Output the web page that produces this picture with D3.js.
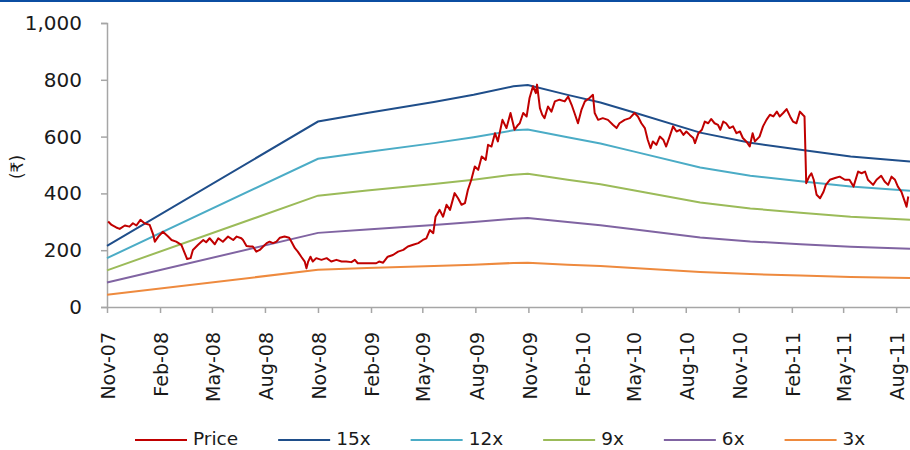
<!DOCTYPE html>
<html><head><meta charset="utf-8">
<script src="https://cdn.jsdelivr.net/npm/d3@7"></script>
<style>
body{margin:0;background:#fff}
svg{display:block}
text{font-family:"DejaVu Sans","Noto Sans",sans-serif;fill:#1a1a1a}
</style>
</head><body>
<svg id="chart" width="910" height="450"></svg>
<script>
// ---------- data ----------
const seriesNames = ["Price", "15x", "12x", "9x", "6x", "3x"];
const yTicks = [0, 200, 400, 600, 800, 1000];
const xTickDates = ["2007-11-01","2008-02-01","2008-05-01","2008-08-01","2008-11-01","2009-02-01","2009-05-01","2009-08-01","2009-11-01","2010-02-01","2010-05-01","2010-08-01","2010-11-01","2011-02-01","2011-05-01","2011-08-01"];

const bandDates = ["2007-11-01","2008-11-01","2009-01-25","2009-05-21","2009-07-29","2009-10-06","2009-10-31","2010-01-08","2010-03-06","2010-05-02","2010-08-26","2010-11-21","2011-02-16","2011-05-14","2011-08-25"];
const pe15 = [215, 653, 683, 722, 747, 777, 782, 747, 720, 686, 614, 578, 554, 530, 512];
const pe12 = [172, 522, 546, 577, 598, 622, 625, 598, 576, 548, 491, 462, 443, 424, 409];
const pe9  = [129, 392, 410, 433, 448, 466, 469, 448, 432, 411, 368, 347, 332, 318, 307];
const pe6  = [86, 261, 273, 289, 299, 311, 313, 299, 288, 274, 245, 231, 221, 212, 205];
const pe3  = [43, 131, 137, 144, 149, 155, 156, 149, 144, 137, 123, 116, 111, 106, 102];

const priceDates = [
"2007-11-03","2007-11-09","2007-11-17","2007-11-23","2007-12-02","2007-12-10","2007-12-16","2007-12-22","2007-12-29",
"2008-01-05","2008-01-14","2008-01-20","2008-01-23","2008-01-29","2008-02-06","2008-02-15","2008-02-21","2008-02-29",
"2008-03-09","2008-03-15","2008-03-19","2008-03-25","2008-03-29","2008-04-07","2008-04-16","2008-04-21","2008-04-27",
"2008-05-06","2008-05-12","2008-05-20","2008-05-29","2008-06-07","2008-06-13","2008-06-21","2008-06-24","2008-06-30",
"2008-07-06","2008-07-11","2008-07-17","2008-07-23","2008-07-29","2008-08-04","2008-08-09","2008-08-15","2008-08-21",
"2008-08-27","2008-09-04","2008-09-12","2008-09-16","2008-09-22","2008-09-27","2008-10-03","2008-10-09","2008-10-12",
"2008-10-15","2008-10-19","2008-10-23","2008-10-29","2008-11-07","2008-11-16","2008-11-24","2008-12-03","2008-12-12",
"2008-12-20","2008-12-29","2009-01-04","2009-01-09","2009-01-24","2009-02-10","2009-02-15","2009-02-22","2009-03-02",
"2009-03-11","2009-03-20","2009-03-29","2009-04-06","2009-04-15","2009-04-24","2009-05-02","2009-05-08","2009-05-14",
"2009-05-20","2009-05-24","2009-05-31","2009-06-06","2009-06-12","2009-06-18","2009-06-26","2009-07-02","2009-07-08",
"2009-07-14","2009-07-19","2009-07-25","2009-07-31","2009-08-06","2009-08-12","2009-08-19","2009-08-23","2009-08-29",
"2009-09-04","2009-09-09","2009-09-17","2009-09-24","2009-10-01","2009-10-08","2009-10-14","2009-10-17","2009-10-23",
"2009-10-29","2009-11-03","2009-11-09","2009-11-14","2009-11-16","2009-11-21","2009-11-25","2009-11-29","2009-12-05",
"2009-12-11","2009-12-17","2009-12-25","2010-01-03","2010-01-09","2010-01-15","2010-01-20","2010-01-26","2010-02-01",
"2010-02-07","2010-02-15","2010-02-21","2010-02-24","2010-03-02","2010-03-10","2010-03-19","2010-03-28","2010-04-03",
"2010-04-08","2010-04-17","2010-04-26","2010-05-04","2010-05-10","2010-05-16","2010-05-22","2010-05-27","2010-06-01",
"2010-06-05","2010-06-11","2010-06-17","2010-06-23","2010-06-28","2010-07-04","2010-07-10","2010-07-16","2010-07-22",
"2010-07-28","2010-08-02","2010-08-08","2010-08-14","2010-08-17","2010-08-23","2010-08-29","2010-09-03","2010-09-09",
"2010-09-14","2010-09-20","2010-09-26","2010-09-30","2010-10-05","2010-10-10","2010-10-16","2010-10-22","2010-10-28",
"2010-11-03","2010-11-08","2010-11-14","2010-11-20","2010-11-25","2010-11-29","2010-12-07","2010-12-13","2010-12-19",
"2010-12-25","2010-12-31","2011-01-06","2011-01-11","2011-01-17","2011-01-23","2011-01-29","2011-02-03","2011-02-09",
"2011-02-15","2011-02-20","2011-02-23","2011-02-26","2011-03-03","2011-03-07","2011-03-11","2011-03-16","2011-03-22",
"2011-03-28","2011-04-01","2011-04-08","2011-04-17","2011-04-25","2011-05-04","2011-05-12","2011-05-19","2011-05-27",
"2011-06-02","2011-06-08","2011-06-13","2011-06-22","2011-06-28","2011-07-06","2011-07-12","2011-07-18","2011-07-24",
"2011-07-30","2011-08-04","2011-08-10","2011-08-16","2011-08-19","2011-08-22"];
const priceValues = [
301,289,280,275,287,283,295,287,307,
295,289,256,230,248,265,248,236,230,
219,189,169,172,201,219,236,228,242,
221,242,230,248,236,248,242,236,215,
213,213,195,201,213,225,230,225,230,
244,248,244,230,207,195,177,160,136,
160,177,160,172,166,172,160,166,160,
160,158,166,154,154,154,160,156,177,
183,195,201,213,219,225,236,242,271,
260,318,342,318,360,342,401,383,360,
366,412,448,495,483,530,518,571,565,
612,583,659,630,683,624,641,647,683,
671,736,777,753,783,700,677,665,706,
688,724,730,724,741,712,683,647,694,
724,736,747,683,659,665,659,641,630,
647,659,665,683,671,647,630,589,559,
583,571,600,589,565,600,636,618,624,
606,618,606,595,577,612,624,653,647,
662,647,641,624,653,647,630,636,612,
618,595,583,565,612,583,600,636,659,
677,671,688,671,683,697,671,653,647,
688,677,671,436,459,471,448,395,383,
406,430,448,454,459,448,448,424,477,
471,477,448,430,448,462,442,430,459,
448,424,406,371,353,389];

// ---------- styles ----------
const colors = {"Price":"#c00000","15x":"#1f4e8a","12x":"#4bacc6","9x":"#9bbb59","6x":"#8064a2","3x":"#ee8a3e"};

// ---------- build ----------
const parse = d3.utcParse("%Y-%m-%d");
const bandValues = {"15x":pe15,"12x":pe12,"9x":pe9,"6x":pe6,"3x":pe3};
const bandSeries = ["15x","12x","9x","6x","3x"].map(name => ({
  name, points: bandDates.map((d,i) => ({date: parse(d), value: bandValues[name][i]}))
}));
const priceSeries = {name:"Price", points: priceDates.map((d,i) => ({date: parse(d), value: priceValues[i]}))};

const svg = d3.select("#chart");
const mLeft = 107, mRight = 910, mTop = 23, mBottom = 307;

const x = d3.scaleUtc().domain([parse("2007-11-01"), parse("2011-08-25")]).range([mLeft, mRight]);
const y = d3.scaleLinear().domain([0, 1000]).range([mBottom, mTop]);

// top band
svg.append("rect").attr("x",0).attr("y",0).attr("width",910).attr("height",2).attr("fill","#0b4ea2");

// y axis
const yAxis = svg.append("g").attr("transform",`translate(${mLeft},0)`)
  .call(d3.axisLeft(y).tickValues(yTicks).tickSize(6).tickPadding(19).tickFormat(d3.format(",")));
yAxis.select(".domain").attr("stroke","#a6a6a6").attr("stroke-width",1.5);
yAxis.selectAll(".tick line").attr("stroke","#a6a6a6").attr("stroke-width",1.5);
yAxis.selectAll(".tick text").attr("font-size",20).attr("font-family","DejaVu Sans").attr("fill","#1a1a1a");

// x axis
const xAxis = svg.append("g").attr("transform",`translate(0,${mBottom})`)
  .call(d3.axisBottom(x).tickValues(xTickDates.map(parse)).tickSize(6).tickSizeOuter(0).tickFormat(d3.utcFormat("%b-%y")));
xAxis.select(".domain").attr("stroke","#a6a6a6").attr("stroke-width",1.5);
xAxis.selectAll(".tick line").attr("stroke","#a6a6a6").attr("stroke-width",1.5);
xAxis.selectAll(".tick text")
  .attr("font-size",19).attr("font-family","DejaVu Sans").attr("fill","#1a1a1a")
  .attr("text-anchor","end").attr("transform","translate(1,25) rotate(-90)")
  .attr("x",0).attr("y",0).attr("dy","0.35em");

// y label
svg.append("text").attr("transform","translate(17,167) rotate(-90)")
  .attr("text-anchor","middle").attr("dy","0.35em").attr("font-size",17).text("(₹)");

// lines
const line = d3.line().x(d => x(d.date)).y(d => y(d.value));
const plot = svg.append("g");
bandSeries.forEach(s => {
  plot.append("path").datum(s.points).attr("fill","none")
    .attr("stroke",colors[s.name]).attr("stroke-width",2).attr("d",line);
});
plot.append("path").datum(priceSeries.points).attr("fill","none")
  .attr("stroke",colors.Price).attr("stroke-width",2).attr("stroke-linejoin","round").attr("d",line);

// legend
const legend = svg.append("g");
let lx = 135;
seriesNames.forEach(name => {
  legend.append("line").attr("x1",lx).attr("x2",lx+52).attr("y1",440).attr("y2",440)
    .attr("stroke",colors[name]).attr("stroke-width",2);
  const t = legend.append("text").attr("x",lx+58).attr("y",445).attr("font-size",18.5).text(name);
  lx = lx + 58 + t.node().getComputedTextLength() + 40;
});
</script>
</body></html>
